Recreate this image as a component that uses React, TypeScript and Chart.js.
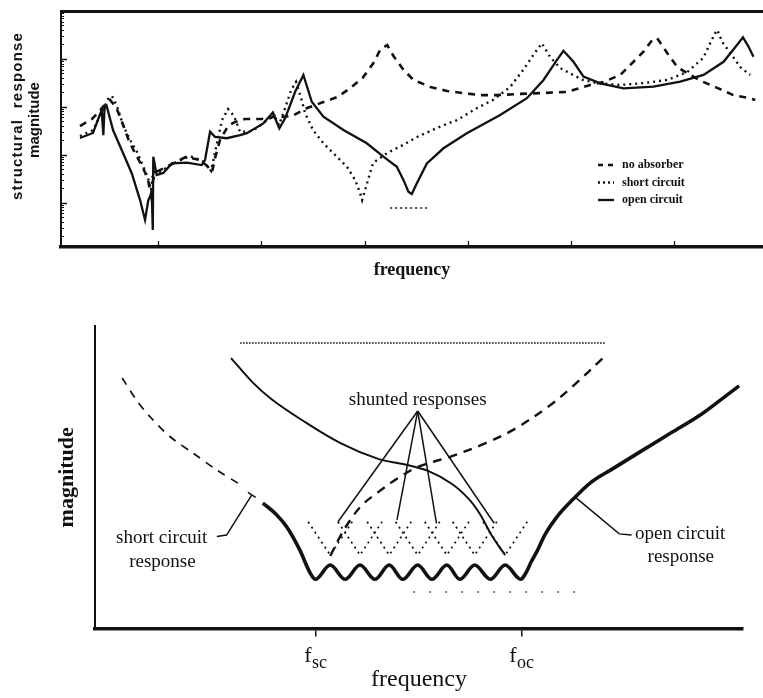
import React, { useEffect, useRef } from 'react';
import { Chart, registerables } from 'chart.js';

Chart.register(...registerables);

const INK = '#111111';
const SERIF = '"Liberation Serif", "DejaVu Serif", serif';
const SANS = '"Liberation Sans", "DejaVu Sans", sans-serif';

// ================= Upper panel: measured structural response =================
// frequency (arbitrary units) and magnitude (dB, arbitrary reference)
const noAbsorberFreq = [24.4, 36.0, 45.7, 53.5, 59.3, 65.1, 71.9, 78.7, 85.5, 90.3, 93.2, 95.2, 98.1, 111.6, 127.1, 140.7, 147.5, 152.3, 155.2, 160.1, 167.8, 174.6, 184.3, 206.4, 213.4, 220.2, 229.8, 244.4, 260.2, 273.8, 286.4, 298.1, 308.7, 315.5, 322.0, 328.1, 337.8, 347.5, 363.8, 380.0, 394.6, 412.0, 428.5, 450.8, 473.1, 496.3, 509.0, 518.6, 531.4, 547.7, 560.3, 570.0, 578.7, 583.5, 593.2, 602.9, 615.5, 628.1, 641.7, 657.2, 671.7, 678.5];
const noAbsorberMag = [52.0, 54.9, 59.5, 62.9, 59.9, 53.7, 45.7, 39.9, 34.5, 29.5, 23.2, 29.5, 32.8, 35.7, 39.1, 37.8, 35.3, 32.8, 38.6, 46.2, 52.0, 53.7, 54.9, 54.9, 56.2, 55.8, 56.2, 59.5, 62.0, 64.1, 67.9, 72.0, 78.3, 84.1, 85.8, 81.2, 75.4, 71.2, 68.3, 66.6, 65.8, 64.9, 64.9, 65.4, 65.8, 66.2, 67.9, 69.1, 70.4, 73.3, 78.7, 82.9, 87.9, 88.7, 82.5, 76.6, 73.3, 70.4, 67.9, 64.9, 63.7, 62.9];

const shortCircuitFreq = [24.4, 37.0, 45.7, 51.6, 55.4, 60.3, 66.1, 72.9, 79.7, 85.5, 90.3, 93.2, 95.2, 101.9, 113.6, 131.0, 144.6, 151.4, 155.2, 162.0, 167.8, 173.6, 179.5, 191.1, 202.7, 211.4, 217.2, 223.1, 228.9, 233.7, 238.6, 242.4, 250.2, 259.9, 273.4, 283.1, 290.9, 295.7, 297.7, 302.5, 308.3, 321.9, 337.4, 351.0, 370.3, 389.7, 409.1, 424.6, 441.1, 453.7, 463.4, 471.8, 479.8, 489.5, 502.1, 511.8, 525.4, 547.7, 569.9, 593.2, 612.6, 628.1, 634.9, 639.7, 641.7, 646.5, 654.3, 664.0, 673.6];
const shortCircuitMag = [47.8, 50.3, 57.8, 63.3, 64.5, 60.3, 52.4, 46.2, 41.1, 35.3, 30.3, 25.3, 32.8, 32.8, 36.1, 39.5, 37.0, 33.2, 41.1, 54.5, 59.1, 56.2, 49.5, 49.9, 53.3, 57.4, 52.4, 59.5, 67.0, 70.4, 63.7, 57.4, 50.3, 44.9, 39.1, 34.9, 29.5, 24.0, 21.1, 28.2, 36.6, 40.7, 44.1, 47.4, 51.2, 54.5, 59.5, 62.9, 68.3, 75.4, 81.6, 86.5, 80.8, 76.2, 73.3, 71.2, 69.9, 69.1, 69.9, 71.2, 74.5, 80.4, 86.6, 90.8, 92.1, 87.1, 82.5, 76.6, 73.3];

const openCircuitFreq = [24.4, 37.0, 45.4, 47.0, 48.2, 50.3, 56.4, 64.8, 74.5, 82.6, 87.4, 90.6, 93.9, 94.9, 95.4, 98.7, 105.1, 113.3, 127.8, 142.3, 145.5, 150.4, 155.2, 166.6, 179.5, 186.0, 202.0, 211.1, 217.5, 223.1, 232.8, 240.8, 248.9, 260.2, 279.6, 302.2, 318.3, 331.3, 337.7, 342.5, 345.8, 350.7, 360.4, 376.5, 399.1, 431.4, 457.3, 473.4, 486.3, 492.7, 502.4, 512.1, 528.3, 550.9, 579.9, 605.8, 628.4, 647.8, 660.8, 666.6, 672.0, 676.8];
const openCircuitMag = [47.0, 49.1, 58.7, 48.2, 59.5, 60.3, 50.3, 42.0, 32.3, 21.1, 12.8, 21.1, 24.0, 8.6, 39.2, 31.5, 32.4, 36.4, 36.7, 35.7, 37.8, 49.6, 47.5, 46.9, 48.2, 49.0, 53.1, 57.6, 51.0, 55.2, 66.3, 73.3, 62.1, 55.9, 50.3, 44.8, 39.2, 35.0, 29.5, 24.6, 23.6, 28.1, 36.4, 42.7, 49.0, 56.6, 63.6, 71.2, 79.5, 83.4, 78.8, 72.6, 69.8, 67.7, 68.4, 70.5, 73.3, 78.8, 85.8, 89.0, 85.1, 80.9];

const residueFreq = [324.8, 360.7];
const residueMag = [17.8, 17.8];

const upperFreqTicks = [100, 200, 300, 400, 500, 600];
const upperMagTicks = [20, 40, 60, 80];
const upperLegendLabels = ['no absorber', 'short circuit', 'open circuit'];
const upperYTitle = ['structural  response', 'magnitude'];
const upperXTitle = 'frequency';

// ================= Lower panel: schematic of shunted responses =================
const shortDashFreq = [4.2, 6.4, 8.5, 11.6, 15.2, 18.8, 22.8];
const shortDashMag = [82.8, 75.5, 70.0, 63.4, 57.9, 52.4, 47.1];

const upperSolidFreq = [21.0, 24.4, 27.3, 31.8, 37.8, 43.8, 47.5, 51.4, 55.1, 57.7, 59.4, 61.0, 62.2, 63.3];
const upperSolidMag = [89.4, 81.2, 75.7, 69.1, 61.4, 56.0, 54.4, 52.1, 47.8, 42.8, 37.9, 31.6, 27.6, 24.3];

const envelopeFreq = [25.9, 27.9, 29.6, 31.6, 33.2, 34.0, 36.3, 38.6, 40.9, 43.2, 45.4, 47.5, 49.8, 52.0, 54.3, 56.3, 58.6, 61.0, 63.3, 65.7, 66.5, 67.3, 68.2, 69.4, 71.5, 73.8, 76.4, 79.8, 84.1, 88.9, 93.4, 96.5, 99.4];
const envelopeMag = [41.5, 37.9, 33.6, 26.0, 18.4, 16.3, 21.0, 16.3, 21.0, 16.3, 21.0, 16.3, 21.0, 16.3, 21.0, 16.3, 21.0, 16.3, 21.0, 16.3, 18.4, 22.0, 25.5, 30.9, 37.5, 42.8, 48.1, 52.7, 58.4, 64.7, 70.6, 75.5, 80.2];

const risingDashFreq = [36.3, 37.8, 39.4, 41.2, 43.7, 46.8, 49.8, 55.1, 60.3, 64.8, 70.1, 73.8, 78.4];
const risingDashMag = [24.0, 30.3, 35.9, 40.8, 45.1, 49.8, 53.4, 57.0, 61.3, 66.0, 73.6, 80.2, 89.4];

const ceilingFreq = [22.4, 78.7];
const ceilingMag = [94.4, 94.4];

const floorFreq = [49.1, 74.5];
const floorMag = [12.1, 12.1];

const shuntedLeftFreq = [32.9, 37.5, 42.0, 46.4, 50.9, 55.2, 59.9];
const shuntedTipFreq = [36.3, 40.9, 45.4, 49.8, 54.3, 58.6, 63.3];
const shuntedRightFreq = [39.7, 44.3, 48.8, 53.2, 57.7, 62.0, 66.7];
const shuntedArmMag = [35.3, 35.3, 35.3, 35.3, 35.3, 35.3, 35.3];
const shuntedTipMag = [24.3, 24.3, 24.3, 24.3, 24.3, 24.3, 24.3];

const pointerApexFreq = 49.8;
const pointerApexMag = 71.9;
const pointerEndFreq = [37.5, 46.6, 52.7, 61.6];
const pointerEndMag = [35.3, 35.9, 34.8, 34.8];

const shortLeaderFreq = [24.2, 20.3, 18.8];
const shortLeaderMag = [44.2, 30.9, 30.4];
const shortCapFreq = [23.6, 24.8];
const shortCapMag = [45.0, 43.4];
const openLeaderFreq = [74.2, 80.9, 82.8];
const openLeaderMag = [43.3, 31.3, 30.9];

const noteText = ['shunted responses', 'short circuit', 'response', 'open circuit', 'response'];
const noteFreq = [49.8, 10.3, 10.4, 90.3, 90.4];
const noteMag = [75.5, 29.9, 22.1, 31.3, 23.7];

const lowerFreqTicks = [34.0, 65.8];
const lowerTickSubs = ['sc', 'oc'];
const lowerXTitle = 'frequency';
const lowerYTitle = 'magnitude';

// ================= helpers =================
const pts = (xs: number[], ys: number[]) => xs.map((x, i) => ({ x, y: ys[i] }));

const series = (label: string, xs: number[], ys: number[], extra: any = {}) => ({
  label,
  data: pts(xs, ys),
  showLine: true,
  pointRadius: 0,
  pointHoverRadius: 0,
  borderColor: INK,
  backgroundColor: INK,
  borderWidth: 2,
  fill: false,
  tension: 0,
  borderCapStyle: 'butt',
  ...extra,
});

const legendDash = [[5, 5], [2, 3], []];

const upperDecor = {
  id: 'upperDecor',
  afterDatasetsDraw(chart: any) {
    const { ctx, chartArea: a, scales } = chart;
    const xs = scales.x;
    const ys = scales.y;
    ctx.save();
    ctx.strokeStyle = INK;
    ctx.setLineDash([]);
    // inward major ticks
    ctx.lineWidth = 1.3;
    ctx.beginPath();
    for (const v of upperFreqTicks) {
      const px = Math.round(xs.getPixelForValue(v)) + 0.5;
      ctx.moveTo(px, a.bottom);
      ctx.lineTo(px, a.bottom - 6);
    }
    for (const v of upperMagTicks) {
      const py = Math.round(ys.getPixelForValue(v)) + 0.5;
      ctx.moveTo(a.left, py);
      ctx.lineTo(a.left + 6, py);
    }
    ctx.stroke();
    // minor (logarithmic) ticks, 20 dB per decade
    ctx.lineWidth = 1;
    ctx.beginPath();
    for (let d = 0; d < 100; d += 20) {
      for (let k = 2; k <= 9; k++) {
        const v = d + 20 * Math.log10(k);
        if (v <= ys.min || v >= ys.max) continue;
        const py = Math.round(ys.getPixelForValue(v)) + 0.5;
        ctx.moveTo(a.left, py);
        ctx.lineTo(a.left + 3, py);
      }
    }
    ctx.stroke();

    // y title (two lines, rotated)
    ctx.fillStyle = INK;
    ctx.textAlign = 'center';
    ctx.textBaseline = 'middle';
    ctx.font = `bold 15px ${SANS}`;
    ctx.save();
    (ctx as any).letterSpacing = '1.2px';
    ctx.translate(a.left - 43, 116);
    ctx.rotate(-Math.PI / 2);
    ctx.fillText(upperYTitle[0], 0, 0);
    ctx.restore();
    ctx.save();
    ctx.translate(a.left - 26, 120);
    ctx.rotate(-Math.PI / 2);
    ctx.fillText(upperYTitle[1], 0, 0);
    ctx.restore();

    // legend
    const lx0 = a.left + 537;
    const ly0 = a.top + 154;
    ctx.font = `bold 12px ${SERIF}`;
    ctx.textAlign = 'left';
    chart.data.datasets.slice(0, 3).forEach((ds: any, i: number) => {
      const y = ly0 + i * 17.5;
      ctx.beginPath();
      ctx.setLineDash(legendDash[i]);
      ctx.lineWidth = ds.borderWidth;
      ctx.strokeStyle = ds.borderColor;
      ctx.moveTo(lx0, y);
      ctx.lineTo(lx0 + 16, y);
      ctx.stroke();
      ctx.setLineDash([]);
      ctx.fillText(upperLegendLabels[i], lx0 + 24, y);
    });
    ctx.restore();
  },
};

const lowerDecor = {
  id: 'lowerDecor',
  afterDatasetsDraw(chart: any) {
    const { ctx, chartArea: a, scales } = chart;
    const xs = scales.x;
    const ys = scales.y;
    ctx.save();
    ctx.fillStyle = INK;
    ctx.textAlign = 'center';
    ctx.textBaseline = 'middle';
    ctx.font = `19px ${SERIF}`;
    noteText.forEach((t, i) => {
      ctx.fillText(t, xs.getPixelForValue(noteFreq[i]), ys.getPixelForValue(noteMag[i]));
    });
    // tick labels f_sc, f_oc
    const base = a.bottom + 33.5;
    ctx.textAlign = 'left';
    ctx.textBaseline = 'alphabetic';
    lowerFreqTicks.forEach((v, i) => {
      const px = xs.getPixelForValue(v);
      ctx.font = `22px ${SERIF}`;
      const wf = ctx.measureText('f').width;
      ctx.font = `18px ${SERIF}`;
      const ws = ctx.measureText(lowerTickSubs[i]).width;
      const start = px - (wf + ws) / 2;
      ctx.font = `22px ${SERIF}`;
      ctx.fillText('f', start, base);
      ctx.font = `18px ${SERIF}`;
      ctx.fillText(lowerTickSubs[i], start + wf + 0.5, base + 6);
    });
    ctx.restore();
  },
};

function buildUpper(): any {
  return {
    type: 'scatter',
    data: {
      datasets: [
        series('no absorber', noAbsorberFreq, noAbsorberMag, { borderDash: [7, 6], borderWidth: 2.6 }),
        series('short circuit', shortCircuitFreq, shortCircuitMag, { borderDash: [2, 4], borderWidth: 2.4 }),
        series('open circuit', openCircuitFreq, openCircuitMag, { borderWidth: 2.3 }),
        series('residue', residueFreq, residueMag, { borderDash: [2, 3], borderWidth: 1.5 }),
      ],
    },
    options: {
      animation: false,
      responsive: false,
      maintainAspectRatio: false,
      devicePixelRatio: 1,
      events: [],
      layout: { padding: { top: 11, right: 0, bottom: 0, left: 0 } },
      plugins: { legend: { display: false }, tooltip: { enabled: false } },
      scales: {
        x: {
          type: 'linear',
          position: 'bottom',
          min: 6,
          max: 686,
          ticks: { display: false },
          grid: { display: false, drawTicks: false },
          border: { display: true, color: INK, width: 3.5 },
          title: {
            display: true,
            text: upperXTitle,
            color: INK,
            font: { family: SERIF, size: 18, weight: 'bold' },
            padding: { top: 0, bottom: 9 },
          },
          afterFit: (s: any) => { s.height = 43; },
        },
        xTop: {
          type: 'linear',
          position: 'top',
          min: 6,
          max: 686,
          ticks: { display: false },
          grid: { display: false, drawTicks: false },
          border: { display: true, color: INK, width: 3 },
          afterFit: (s: any) => { s.height = 0; },
        },
        y: {
          type: 'linear',
          position: 'left',
          min: 1.5,
          max: 100,
          ticks: { display: false, stepSize: 20 },
          grid: { display: false, drawTicks: false },
          border: { display: true, color: INK, width: 2 },
          afterFit: (s: any) => { s.width = 61; },
        },
      },
    },
    plugins: [upperDecor],
  };
}

function buildLower(): any {
  const shunted = shuntedTipFreq.map((_, i) =>
    series(
      i === 0 ? 'shunted responses' : '',
      [shuntedLeftFreq[i], shuntedTipFreq[i], shuntedRightFreq[i]],
      [shuntedArmMag[i], shuntedTipMag[i], shuntedArmMag[i]],
      { borderDash: [2, 4], borderWidth: 1.7 }
    )
  );
  const pointers = pointerEndFreq.map((f, i) =>
    series('', [pointerApexFreq, f], [pointerApexMag, pointerEndMag[i]], { borderWidth: 1.5 })
  );
  return {
    type: 'scatter',
    data: {
      datasets: [
        series('ceiling', ceilingFreq, ceilingMag, { borderDash: [1.5, 1.5], borderWidth: 2, borderColor: '#444' }),
        series('floor', floorFreq, floorMag, { borderDash: [2, 14], borderWidth: 1.5, borderColor: '#555' }),
        series('short circuit response', shortDashFreq, shortDashMag, { borderDash: [8, 7], borderWidth: 1.7, tension: 0.3 }),
        series('open circuit (upper)', upperSolidFreq, upperSolidMag, { borderWidth: 2, tension: 0.35 }),
        series('rising', risingDashFreq, risingDashMag, { borderDash: [9, 7], borderWidth: 2.4, tension: 0.35 }),
        ...shunted,
        series('envelope', envelopeFreq, envelopeMag, { borderWidth: 3.6, cubicInterpolationMode: 'monotone', borderJoinStyle: 'round' }),
        ...pointers,
        series('', shortLeaderFreq, shortLeaderMag, { borderWidth: 1.5 }),
        series('', shortCapFreq, shortCapMag, { borderWidth: 1.5 }),
        series('', openLeaderFreq, openLeaderMag, { borderWidth: 1.5 }),
      ],
    },
    options: {
      animation: false,
      responsive: false,
      maintainAspectRatio: false,
      devicePixelRatio: 1,
      events: [],
      layout: { padding: { top: 36, right: 20, bottom: 0, left: 0 } },
      plugins: { legend: { display: false }, tooltip: { enabled: false } },
      scales: {
        x: {
          type: 'linear',
          position: 'bottom',
          min: 0,
          max: 100,
          afterBuildTicks: (s: any) => { s.ticks = lowerFreqTicks.map((v) => ({ value: v })); },
          ticks: { display: false },
          grid: { display: true, drawOnChartArea: false, drawTicks: true, tickLength: 8, lineWidth: 1.5, color: INK },
          border: { display: true, color: INK, width: 3.5 },
          title: {
            display: true,
            text: lowerXTitle,
            color: INK,
            font: { family: SERIF, size: 24, weight: 'normal' },
            padding: { top: 0, bottom: 4 },
          },
          afterFit: (s: any) => { s.height = 69.4; },
        },
        y: {
          type: 'linear',
          position: 'left',
          min: 0,
          max: 100,
          ticks: { display: false },
          grid: { display: false, drawTicks: false },
          border: { display: true, color: INK, width: 2 },
          title: {
            display: true,
            text: lowerYTitle,
            color: INK,
            font: { family: SERIF, size: 22, weight: 'bold' },
            padding: { top: 54, bottom: 0 },
          },
          afterFit: (s: any) => { s.width = 95; },
        },
      },
    },
    plugins: [lowerDecor],
  };
}

export default function App() {
  const upperRef = useRef<HTMLCanvasElement | null>(null);
  const lowerRef = useRef<HTMLCanvasElement | null>(null);

  useEffect(() => {
    if (!upperRef.current || !lowerRef.current) return;
    const c1 = new Chart(upperRef.current, buildUpper());
    const c2 = new Chart(lowerRef.current, buildLower());
    return () => {
      c1.destroy();
      c2.destroy();
    };
  }, []);

  return (
    <div style={{ position: 'fixed', left: 0, top: 0, width: 763, height: 698, background: '#ffffff' }}>
      <canvas
        ref={upperRef}
        width={763}
        height={290}
        style={{ position: 'absolute', left: 0, top: 0, width: 763, height: 290 }}
      />
      <canvas
        ref={lowerRef}
        width={763}
        height={408}
        style={{ position: 'absolute', left: 0, top: 290, width: 763, height: 408 }}
      />
    </div>
  );
}
